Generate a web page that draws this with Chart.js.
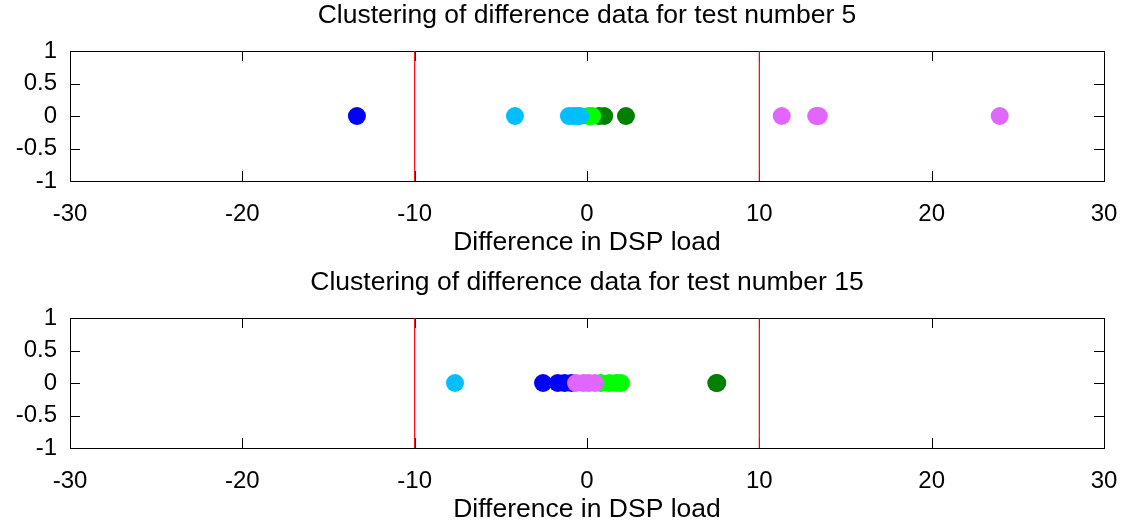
<!DOCTYPE html>
<html>
<head>
<meta charset="utf-8">
<script src="https://cdn.jsdelivr.net/npm/chart.js@4/dist/chart.umd.min.js"></script>
<style>
html,body{margin:0;background:#fff;overflow:hidden;width:1128px;height:528px}
.box{position:absolute;left:0;width:1128px;height:264px}
</style>
</head>
<body>
<div class="box" style="top:0"><canvas id="c5" width="1128" height="264"></canvas></div>
<div class="box" style="top:267px"><canvas id="c15" width="1128" height="264"></canvas></div>
<script>
// cluster colours, drawn in this order (first one ends up on top)
const clusterColors=["#e066ff","#00bfff","#0000ff","#00ff00","#008000"];

// test 5 - differences per cluster
const t5Magenta=[11.3,13.3,13.45,23.95];
const t5Cyan=[-4.18,-1.05,-0.8,-0.6,-0.4];
const t5Blue=[-13.35];
const t5Green=[0.1,0.3];
const t5DarkGreen=[0.7,1.0,2.26];

// test 15
const t15Magenta=[-0.64,-0.2,0.1,0.46];
const t15Cyan=[-7.66];
const t15Blue=[-2.55,-1.7,-1.3,-0.9];
const t15Green=[0.8,1.3,1.7,1.97];
const t15DarkGreen=[7.5,7.56];

// threshold lines
const limits=[-10,10];

const xTicks=[-30,-20,-10,0,10,20,30];
const yTicks=[-1,-0.5,0,0.5,1];

const F="'Liberation Sans', Arial, sans-serif";

// border + inward ticks on all four sides, gnuplot style (under the data)
const frameTicks={
id:"frameTicks",
beforeDatasetsDraw(chart){
let {ctx,chartArea:a,scales:{x,y}}=chart;
ctx.save();
ctx.strokeStyle="#000";
ctx.lineWidth=1;
ctx.beginPath();
xTicks.forEach(v=>{
let px=Math.round(x.getPixelForValue(v))+0.5;
ctx.moveTo(px,a.bottom);ctx.lineTo(px,a.bottom-10);
ctx.moveTo(px,a.top);ctx.lineTo(px,a.top+10);
});
yTicks.forEach(v=>{
let py=Math.round(y.getPixelForValue(v))+0.5;
ctx.moveTo(a.left,py);ctx.lineTo(a.left+10,py);
ctx.moveTo(a.right,py);ctx.lineTo(a.right-10,py);
});
ctx.stroke();
ctx.strokeRect(Math.round(a.left)+0.5,Math.round(a.top)+0.5,Math.round(a.right-a.left),Math.round(a.bottom-a.top));
ctx.restore();
}
};

function makeChart(id,title,groups){
let datasets=groups.map((g,i)=>({
type:"scatter",
data:g.map(v=>({x:v,y:0})),
backgroundColor:clusterColors[i],
borderWidth:0,
pointRadius:9,
pointHoverRadius:9
}));
limits.forEach(v=>datasets.push({
type:"line",
data:[{x:v,y:-1},{x:v,y:1}],
borderColor:"#ff0000",
borderWidth:1.2,
pointRadius:0,
fill:false
}));
return new Chart(document.getElementById(id),{
type:"scatter",
data:{datasets},
plugins:[frameTicks],
options:{
responsive:false,
animation:false,
events:[],
layout:{padding:{left:0,right:24,top:0,bottom:0}},
plugins:{
legend:{display:false},
tooltip:{enabled:false},
title:{display:true,fullSize:false,text:title,color:"#000",font:{family:F,size:26.5,weight:"normal"},padding:{top:0,bottom:19.2}}
},
scales:{
x:{
type:"linear",min:-30,max:30,
afterBuildTicks:s=>{s.ticks=xTicks.map(v=>({value:v}));},
ticks:{color:"#000",font:{family:F,size:24},padding:18.6,maxRotation:0,callback:v=>String(v)},
grid:{display:false,drawTicks:false},
border:{display:false},
title:{display:true,text:"Difference in DSP load",color:"#000",font:{family:F,size:26.5},padding:{top:5.2,bottom:5.2}},
afterFit:s=>{s.height=83;s.paddingLeft=0;s.paddingRight=0;}
},
y:{
type:"linear",min:-1,max:1,
afterBuildTicks:s=>{s.ticks=yTicks.map(v=>({value:v}));},
ticks:{color:"#000",font:{family:F,size:24},padding:13,callback:v=>String(v)},
grid:{display:false,drawTicks:false},
border:{display:false},
afterFit:s=>{s.width=70;s.paddingTop=0;s.paddingBottom=0;}
}
}
}
});
}

makeChart("c5","Clustering of difference data for test number 5",
[t5Magenta,t5Cyan,t5Blue,t5Green,t5DarkGreen]);
makeChart("c15","Clustering of difference data for test number 15",
[t15Magenta,t15Cyan,t15Blue,t15Green,t15DarkGreen]);
</script>
</body>
</html>
